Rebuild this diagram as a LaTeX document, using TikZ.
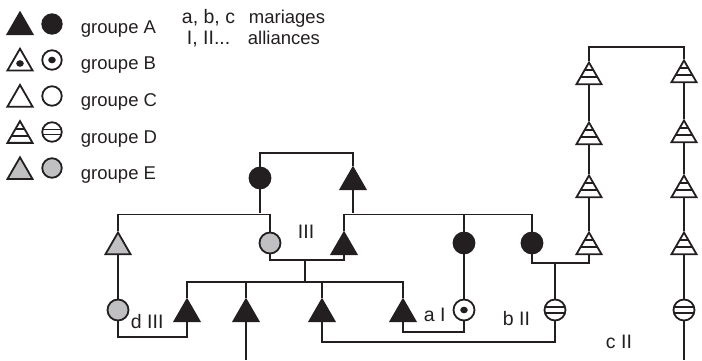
\documentclass[tikz,border=0pt]{standalone}
\usepackage{fontspec}
\setmainfont{Liberation Sans}
\usetikzlibrary{shapes.geometric, calc}
\definecolor{ink}{RGB}{35,31,32}
\definecolor{pale}{RGB}{192,192,194}

\tikzset{
    man/.style={regular polygon, regular polygon sides=3, minimum size=29pt,
        inner sep=0pt, draw=ink, fill=white, line width=1.8pt},
    woman/.style={circle, minimum size=21pt, inner sep=0pt, draw=ink,
        fill=white, line width=1.8pt},
    spot/.style={path picture={
        \fill[ink] ($(path picture bounding box.north)!#1!(path picture bounding box.south)$)
            ellipse (3.8pt and 3.3pt);}},
    bands/.style 2 args={path picture={
        \foreach \f in {#1, #2}
            \draw[ink, line width=1.7pt]
            ($(path picture bounding box.north west)!\f!(path picture bounding box.south west)$)
            -- ($(path picture bounding box.north east)!\f!(path picture bounding box.south east)$);}},
    mA/.style={man, fill=ink},      fA/.style={woman, fill=ink},
    mB/.style={man, spot=0.68},     fB/.style={woman, spot=0.5},
    mC/.style={man},                fC/.style={woman},
    mD/.style={man, bands={0.36}{0.68}}, fD/.style={woman, bands={0.37}{0.63}},
    mE/.style={man, fill=pale},     fE/.style={woman, fill=pale},
    lbl/.style={inner sep=0pt, font=\fontsize{18.5}{20}\selectfont},
    tag/.style={inner sep=0pt, font=\fontsize{19.5}{21}\selectfont}
}

\begin{document}
\begin{tikzpicture}[x=1pt, y=-1pt, line width=1.9pt, color=ink]
    \useasboundingbox (0,0) rectangle (702,360);

    % legend
    \foreach \g [count=\i from 0] in {A,B,C,D,E} {
            \node[m\g] (lm\g) at (20, {27+36.2*\i}) {};
            \node[f\g, minimum size=19.5pt] (lf\g) at (52, {24+36*\i}) {};
            \node[lbl, anchor=base west] (lt\g) at (80, {33+36.7*\i}) {groupe \g};
        }
    \node[tag, anchor=base west] (keyabc) at (181,23) {a, b, c};
    \node[lbl, anchor=base west] (keymar) at (248,23) {mariages};
    \node[tag, anchor=base west] (keyroman) at (186,44) {I, II...};
    \node[lbl, anchor=base west] (keyall) at (247,44) {alliances};

    % levels of the bars
    \coordinate (s0) at (0,153);
    \coordinate (s1) at (0,214.5);
    \coordinate (m1) at (0,260);
    \coordinate (m2) at (0,263);
    \coordinate (s3) at (0,282);
    \coordinate (m4) at (0,332);
    \coordinate (m3) at (0,337);
    \coordinate (m5) at (0,342);
    \coordinate (s4) at (0,47);
    \coordinate (bottom) at (0,360);

    % people
    \node[fA] (c1) at (260,178) {};
    \node[mA] (t1) at (353,182) {};
    \node[mE] (tg) at (118,247) {};
    \node[fE] (cg) at (270,243) {};
    \node[mA] (t2) at (344,247) {};
    \node[fA] (cb1) at (464,243) {};
    \node[fA] (cb2) at (532,243) {};
    \node[fE] (cgd) at (118,310) {};
    \node[mA] (td) at (187,314) {};
    \node[mA] (tm) at (246,314) {};
    \node[mA] (tc) at (322,314) {};
    \node[mA] (ta) at (403,314) {};
    \node[fB] (cB) at (464,310) {};
    \node[fD] (cD) at (555,310) {};
    \node[fD] (cD2) at (684,310) {};
    \foreach \y [count=\i] in {77,137,190,247}
        \node[mD] (dl\i) at (589,\y) {};
    \foreach \y [count=\i] in {75,135,190,247}
        \node[mD] (dr\i) at (684,\y) {};

    % ties
    \draw (c1.north) |- (t1.north |- s0) -- (t1.north);
    \draw (c1.south) -- ($(c1.south |- s1)+(0,-2)$);
    \draw (t1.south) -- ($(t1.south |- s1)+(0,-2)$);
    \draw (tg.north) |- (cg.north |- s1) -- (cg.north);
    \draw (t2.north) |- (cb2.north |- s1) -- (cb2.north);
    \draw (cb1.north) -- (cb1.north |- s1);
    \draw (tg.south) -- (cgd.north);
    \draw (cgd.south) |- (td.south |- m3) -- (td.south);
    \draw (cg.south) |- (t2.south |- m1) -- (t2.south);
    \coordinate (d1) at (305,260);
    \draw (d1) -- (d1 |- s3);
    \draw (td.north) |- (ta.north |- s3) -- (ta.north);
    \draw (tm.north) -- (tm.north |- s3);
    \draw (tc.north) -- (tc.north |- s3);
    \draw (tm.south) -- (tm.south |- bottom);
    \draw (tc.south) |- (cD.south |- m5) -- (cD.south);
    \draw (ta.south) |- (cB.south |- m4) -- (cB.south);
    \draw (cb1.south) -- (cB.north);
    \draw (cb2.south) |- (dl4.south |- m2) -- (dl4.south);
    \coordinate (d2) at (555,263);
    \draw (d2) -- (cD.north);
    \foreach \i/\j in {1/2, 2/3, 3/4} {
            \draw (dl\i.south) -- (dl\j.north);
            \draw (dr\i.south) -- (dr\j.north);
        }
    \draw (dl1.north) |- (dr1.north |- s4) -- (dr1.north);
    \draw (dr4.south) -- (cD2.north);
    \draw (cD2.south) -- (cD2.south |- bottom);

    % labels
    \node[tag, anchor=base west] (lIII) at (297,238) {III};
    \node[tag, anchor=base west] (ldIII) at (130,328) {d III};
    \node[tag, anchor=base west] (laI) at (423,321) {a I};
    \node[tag, anchor=base west] (lbII) at (502,325) {b II};
    \node[tag, anchor=base west] (lcII) at (605,348) {c II};

\end{tikzpicture}
\end{document}
